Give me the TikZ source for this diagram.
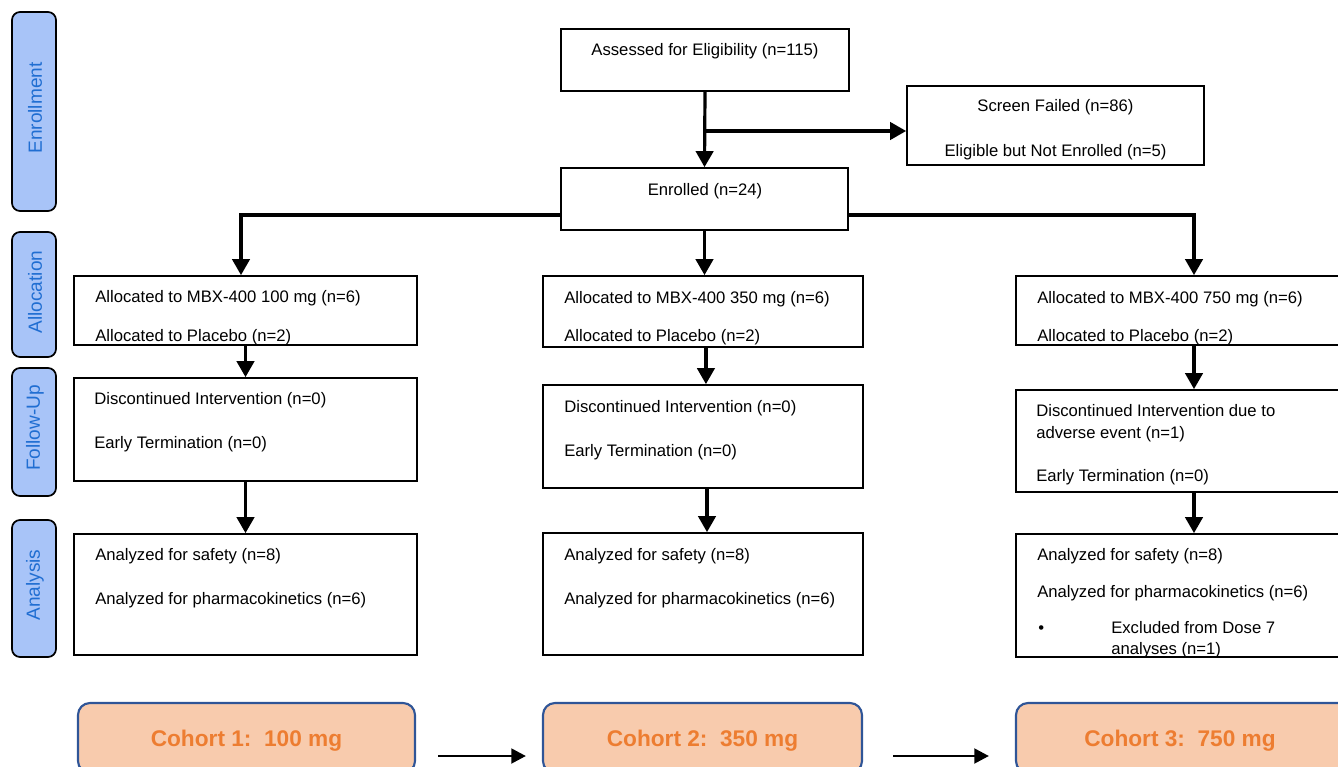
\documentclass[tikz,border=0pt]{standalone}
\usepackage{fontspec}
\setmainfont{Liberation Sans}
\usetikzlibrary{arrows.meta,fit,calc}
\definecolor{sideblue}{RGB}{168,196,248}
\definecolor{sidetext}{RGB}{32,110,210}
\definecolor{cohortfill}{RGB}{248,203,173}
\definecolor{cohortline}{RGB}{47,85,151}
\definecolor{cohorttext}{RGB}{237,125,49}
\tikzset{
  box/.style={draw, line width=1.3pt, inner sep=0pt},
  side/.style={draw, line width=1.3pt, fill=sideblue, rounded corners=6pt, inner sep=0pt},
  sidelab/.style={rotate=90, text=sidetext, font=\fontsize{14.3}{17}\selectfont},
  cohort/.style={draw=cohortline, line width=1.6pt, fill=cohortfill, rounded corners=9pt, inner sep=0pt},
  cohortlab/.style={text=cohorttext, font=\fontsize{17}{20}\selectfont\bfseries},
  txt/.style={anchor=base west, inner sep=0pt, font=\fontsize{12.5}{15}\selectfont},
  ctxt/.style={anchor=base, inner sep=0pt, font=\fontsize{12.5}{15}\selectfont},
  arr/.style={line width=2.4pt, -{Triangle[width=13pt,length=12pt]}},
  carr/.style={line width=2.2pt, -{Triangle[width=11pt,length=11pt]}},
}
\begin{document}
\begin{tikzpicture}[x=0.75pt, y=-0.75pt]
  \useasboundingbox (0,0) rectangle (1338,767);
  \clip (0,0) rectangle (1338,767);
  % phase labels on the left
  \node[side, fit={(12,12) (56,211)}] (enr) {};
  \node[side, fit={(12,232) (56,357)}] (alc) {};
  \node[side, fit={(12,368) (56,496)}] (fup) {};
  \node[side, fit={(12,520) (56,657)}] (ana) {};
  \node[sidelab] (enrlab) at (35,108) {Enrollment};
  \node[sidelab] (alclab) at (35,292) {Allocation};
  \node[sidelab] (fuplab) at (35,428) {Follow-Up};
  \node[sidelab] (analab) at (35,585) {Analysis};

  % enrollment
  \node[box, fit={(561,29) (849,91)}] (assess) {};
  \node[ctxt] (assesst) at (705,56) {Assessed for Eligibility (n=115)};
  \node[box, fit={(907,86) (1204,165)}] (scr) {};
  \node[ctxt] (scrt1) at (1055.5,112) {Screen Failed (n=86)};
  \node[ctxt] (scrt2) at (1055.5,156) {Eligible but Not Enrolled (n=5)};
  \node[box, fit={(561,168) (848,230)}] (enrol) {};
  \node[ctxt] (enrolt) at (705,195) {Enrolled (n=24)};
  \coordinate (split) at (705,131);

  % cohort 1
  \node[box, fit={(74,276) (417,345)}] (a1) {};
  \node[txt] (a1t1) at (95,302) {Allocated to MBX-400 100 mg (n=6)};
  \node[txt] (a1t2) at (95,341) {Allocated to Placebo (n=2)};
  \node[box, fit={(74,378) (417,481)}] (f1) {};
  \node[txt] (f1t1) at (94,404) {Discontinued Intervention (n=0)};
  \node[txt] (f1t2) at (94,448) {Early Termination (n=0)};
  \node[box, fit={(74,534) (417,655)}] (n1) {};
  \node[txt] (n1t1) at (95,560) {Analyzed for safety (n=8)};
  \node[txt] (n1t2) at (95,604) {Analyzed for pharmacokinetics (n=6)};

  % cohort 2
  \node[box, fit={(543,276) (863,347)}] (a2) {};
  \node[txt] (a2t1) at (564,303) {Allocated to MBX-400 350 mg (n=6)};
  \node[txt] (a2t2) at (564,341) {Allocated to Placebo (n=2)};
  \node[box, fit={(543,385) (863,488)}] (f2) {};
  \node[txt] (f2t1) at (564,412) {Discontinued Intervention (n=0)};
  \node[txt] (f2t2) at (564,456) {Early Termination (n=0)};
  \node[box, fit={(543,533) (863,655)}] (n2) {};
  \node[txt] (n2t1) at (564,560) {Analyzed for safety (n=8)};
  \node[txt] (n2t2) at (564,604) {Analyzed for pharmacokinetics (n=6)};

  % cohort 3
  \node[box, fit={(1016,276) (1372,345)}] (a3) {};
  \node[txt] (a3t1) at (1037,303) {Allocated to MBX-400 750 mg (n=6)};
  \node[txt] (a3t2) at (1037,341) {Allocated to Placebo (n=2)};
  \node[box, fit={(1016,390) (1372,492)}] (f3) {};
  \node[txt] (f3t1) at (1036,416) {Discontinued Intervention due to};
  \node[txt] (f3t2) at (1036,438) {adverse event (n=1)};
  \node[txt] (f3t3) at (1036,481) {Early Termination (n=0)};
  \node[box, fit={(1016,534) (1372,657)}] (n3) {};
  \node[txt] (n3t1) at (1037,560) {Analyzed for safety (n=8)};
  \node[txt] (n3t2) at (1037,597) {Analyzed for pharmacokinetics (n=6)};
  \node[txt] (n3b) at (1038,633) {•};
  \node[txt] (n3t3) at (1111,633) {Excluded from Dose 7};
  \node[txt] (n3t4) at (1111,654) {analyses (n=1)};

  % cohort banners
  \node[cohort, fit={(78,703) (415,773)}] (c1) {};
  \node[cohort, fit={(543,703) (862,773)}] (c2) {};
  \node[cohort, fit={(1016,703) (1372,773)}] (c3) {};
  \node[cohortlab] (c1lab) at (246.5,741) {Cohort 1:\ \ 100 mg};
  \node[cohortlab] (c2lab) at (702.5,741) {Cohort 2:\ \ 350 mg};
  \node[cohortlab] (c3lab) at (1180,741) {Cohort 3:\ \ 750 mg};

  % flow
  \coordinate (b1) at (241,215);
  \coordinate (b3) at (1194,215);
  \draw[arr] (assess.south) -- (enrol.north);
  \draw[arr] (split) -- (split -| scr.west);
  \draw[arr] (enrol.west |- b1) -- (b1) -- (b1 |- a1.north);
  \draw[arr] (enrol.east |- b3) -- (b3) -- (b3 |- a3.north);
  \draw[arr] (enrol.south) -- (enrol.south |- a2.north);
  \draw[arr] (a1.south) -- (f1.north);
  \draw[arr] (f1.south) -- (n1.north);
  \draw[arr] ([xshift=2.2pt]a2.south) -- ([xshift=2.2pt]f2.north);
  \draw[arr] ([xshift=3pt]f2.south) -- ([xshift=3pt]n2.north);
  \draw[arr] (a3.south) -- (f3.north);
  \draw[arr] (f3.south) -- (n3.north);
  \draw[carr] ($(c1.east |- 0,756)+(22,0)$) -- ($(c2.west |- 0,756)+(-16,0)$);
  \draw[carr] ($(c2.east |- 0,756)+(30,0)$) -- ($(c3.west |- 0,756)+(-26,0)$);
\end{tikzpicture}
\end{document}
